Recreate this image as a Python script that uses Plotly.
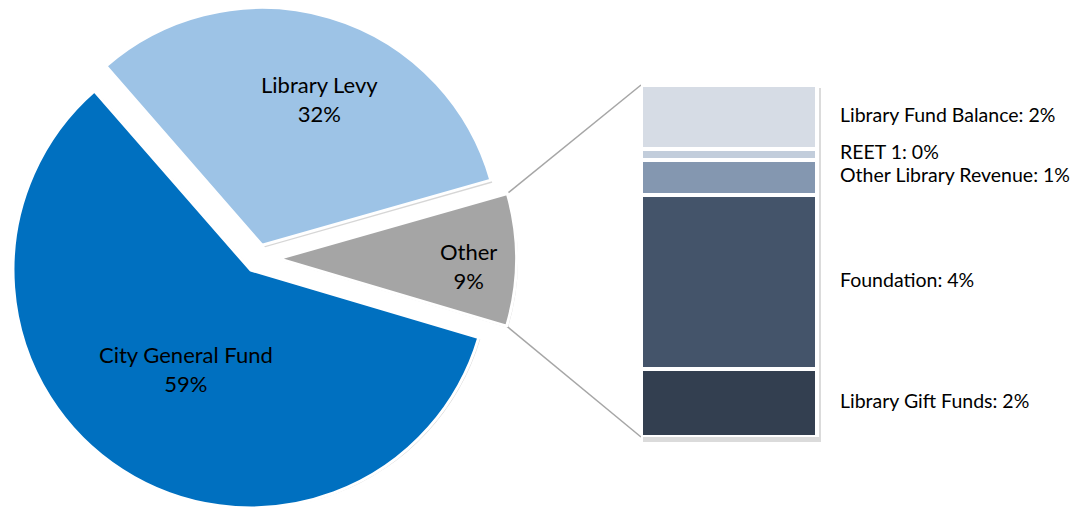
import math
import plotly.graph_objects as go

W, H = 1085, 517

# ---- data ----
pie_labels = ["City General Fund", "Library Levy", "Other"]
pie_values = [59, 32, 9]
pie_colors = ["#0070C0", "#9DC3E6", "#A5A5A5"]
pie_pull = [0.058, 0.058, 0.086]

other_labels = ["Library Gift Funds", "Foundation", "Other Library Revenue", "REET 1", "Library Fund Balance"]
other_values = [1.71, 4.37, 0.88, 0.28, 1.60]
other_colors = ["#333F50", "#44546A", "#8497B0", "#C2CDDB", "#D6DCE5"]

FONT = "Lato"

# ---- layout geometry ----
pie_dom_x = [0.0, 0.476]
pie_dom_y = [0.0, 1.0]
rotation = 106.5
# label placement inside each slice: fraction of radius and angular nudge (deg)
label_k = [0.50, 0.66, 0.80]
label_dtheta = [0.6, 5.0, 1.8]

bar_left_px, bar_right_px = 641, 817
bar_top_px, bar_bot_px = 85, 437
px_per_unit_x = bar_right_px - bar_left_px
x2_dom = [bar_left_px / W, 1.0]
x2_range = [-0.5, -0.5 + (W - bar_left_px) / px_per_unit_x]
y2_dom = [(H - bar_bot_px) / H, (H - bar_top_px) / H]
other_total = sum(other_values)

fig = go.Figure()

# soft shadow under the pie
sh_dx, sh_dy = 3 / W, 4 / H
fig.add_trace(go.Pie(
    labels=pie_labels, values=pie_values, sort=False, direction="clockwise",
    rotation=rotation, pull=pie_pull,
    marker=dict(colors=["rgba(0,0,0,0.16)"] * 3, line=dict(width=0)),
    textinfo="none", domain=dict(x=[pie_dom_x[0] + sh_dx, pie_dom_x[1] + sh_dx],
                                 y=[pie_dom_y[0], pie_dom_y[1] - sh_dy]),
    hoverinfo="skip", showlegend=False,
))

fig.add_trace(go.Pie(
    labels=pie_labels, values=pie_values, sort=False, direction="clockwise",
    rotation=rotation, pull=pie_pull,
    marker=dict(colors=pie_colors, line=dict(color="white", width=3)),
    textinfo="none",
    domain=dict(x=pie_dom_x, y=pie_dom_y), hoverinfo="skip", showlegend=False,
))

for lab, val, col in zip(other_labels, other_values, other_colors):
    fig.add_trace(go.Bar(
        x=[0], y=[val], width=[1], name=lab, xaxis="x2", yaxis="y2",
        marker=dict(color=col, line=dict(color="white", width=4)),
        hoverinfo="skip", showlegend=False,
    ))

# label positions at segment centres
cum = 0
mids = []
for v in other_values:
    mids.append(cum + v / 2)
    cum += v
label_x = 0.5 + (840 - bar_right_px) / px_per_unit_x
fig.add_trace(go.Scatter(
    x=[label_x] * len(other_values), y=mids, mode="text",
    text=[f"{l}: {v:.0f}%" for l, v in zip(other_labels, other_values)],
    textposition="middle right", textfont=dict(family=FONT, size=19.5, color="black"),
    xaxis="x2", yaxis="y2", hoverinfo="skip", showlegend=False, cliponaxis=False,
))

# ---- pie geometry (mirrors plotly's own pie layout) ----
box_w = W * (pie_dom_x[1] - pie_dom_x[0])
box_h = H * (pie_dom_y[1] - pie_dom_y[0])
r = min(box_w, box_h) / (2 + 2 * max(pie_pull))
cx = W * (pie_dom_x[0] + pie_dom_x[1]) / 2
cy = H * (1 - pie_dom_y[0]) - box_h / 2
tot = sum(pie_values)

def to_paper(p):
    return p[0] / W, 1 - p[1] / H

start = rotation
slice_geo = []
for i, v in enumerate(pie_values):
    a0 = start
    a1 = start + 360 * v / tot
    am = math.radians((a0 + a1) / 2)
    ox = cx + pie_pull[i] * r * math.sin(am)
    oy = cy - pie_pull[i] * r * math.cos(am)
    slice_geo.append((a0, a1, ox, oy))
    # slice label
    la = math.radians((a0 + a1) / 2 + label_dtheta[i])
    lx = ox + label_k[i] * r * math.sin(la)
    ly = oy - label_k[i] * r * math.cos(la)
    px_, py_ = to_paper((lx, ly))
    fig.add_annotation(x=px_, y=py_, xref="paper", yref="paper", showarrow=False,
                       text=f"{pie_labels[i]}<br>{100 * v / tot:.0f}%",
                       font=dict(family=FONT, size=22, color="black"),
                       xanchor="center", yanchor="middle", align="center")
    start = a1

# ---- connector lines from the "Other" slice to the bar ----
a0, a1, ox, oy = slice_geo[2]
p_top = (ox + r * math.sin(math.radians(a0)), oy - r * math.cos(math.radians(a0)))
p_bot = (ox + r * math.sin(math.radians(a1)), oy - r * math.cos(math.radians(a1)))
for p, ytarget in ((p_top, y2_dom[1]), (p_bot, y2_dom[0])):
    x0, y0 = to_paper(p)
    fig.add_shape(type="line", xref="paper", yref="paper", x0=x0, y0=y0,
                  x1=x2_dom[0], y1=ytarget, line=dict(color="#A6A6A6", width=1.5),
                  layer="below")

# soft shadow behind the bar box
fig.add_shape(type="rect", xref="paper", yref="paper",
              x0=x2_dom[0] + 2 / W, x1=(bar_right_px + 4) / W,
              y0=y2_dom[0] - 5 / H, y1=y2_dom[1] - 3 / H,
              fillcolor="rgba(0,0,0,0.14)", line=dict(width=0), layer="below")

fig.update_layout(
    width=W, height=H, margin=dict(l=0, r=0, t=0, b=0),
    paper_bgcolor="white", plot_bgcolor="rgba(0,0,0,0)", barmode="stack", bargap=0,
    xaxis2=dict(domain=x2_dom, range=x2_range, visible=False, fixedrange=True),
    yaxis2=dict(domain=y2_dom, range=[0, other_total], visible=False, fixedrange=True,
                anchor="x2"),
    xaxis=dict(visible=False), yaxis=dict(visible=False),
    font=dict(family=FONT),
)

fig.write_html("out.html")
